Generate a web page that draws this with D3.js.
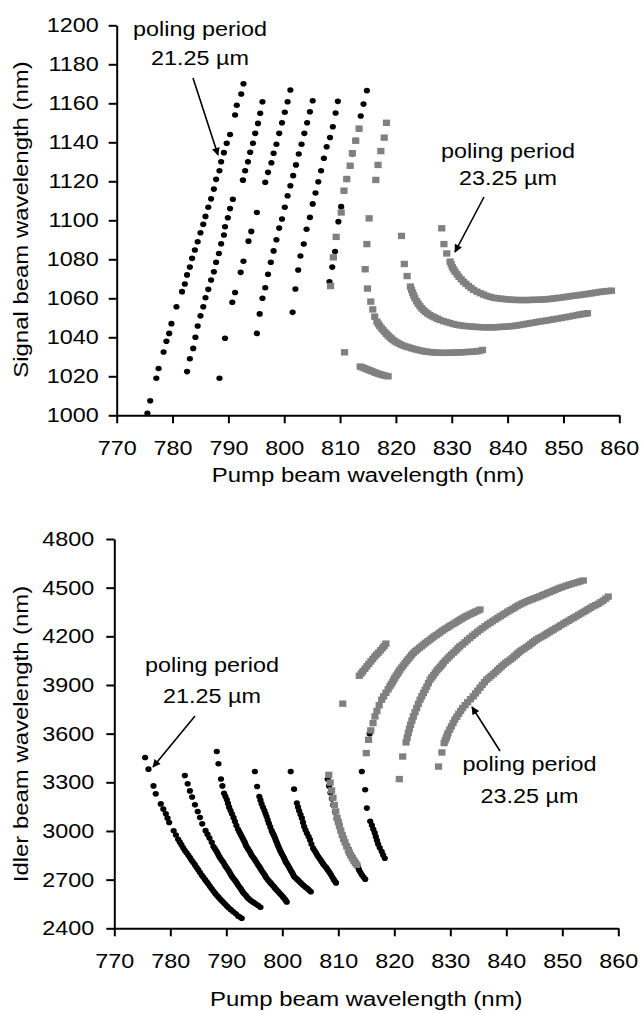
<!DOCTYPE html>
<html>
<head>
<meta charset="utf-8">
<script src="https://cdnjs.cloudflare.com/ajax/libs/d3/7.8.5/d3.min.js"></script>
<style>
  body { margin: 0; background: #fff; }
  svg text { font-family: Arial, "Liberation Sans", sans-serif; fill: #000; }
</style>
</head>
<body>
<div class="chart"></div>
<script>
// Pump vs signal / idler wavelength, two poling periods

// ticks
const pumpTicks = [770, 780, 790, 800, 810, 820, 830, 840, 850, 860]
const signalTicks = [1000, 1020, 1040, 1060, 1080, 1100, 1120, 1140, 1160, 1180, 1200]
const idlerTicks = [2400, 2700, 3000, 3300, 3600, 3900, 4200, 4500, 4800]

// --- top panel: signal wavelength, [pump, signal] ---
// poling period 21.25 um (black dots)
const signalA1 = [[775.5,1001],[776.0,1007.5],[777.1,1019],[777.5,1024],[778.4,1032.5],[778.9,1038],[779.4,1042],[779.8,1047],[780.7,1055.7],[781.7,1063.4],[782.2,1067.3],[782.6,1072],[783.1,1076],[783.5,1080.5],[784.0,1084.8],[784.5,1089],[785.0,1093.6],[785.5,1098],[785.9,1102],[786.4,1106.7],[786.9,1111],[787.4,1116],[787.8,1121],[788.4,1125.4],[788.7,1130],[789.2,1134.7],[789.7,1139.5],[790.3,1144],[791.2,1154],[791.5,1159],[792.3,1164.8],[792.7,1170]]
const signalA2 = [[782.6,1022.4],[783.1,1029],[783.7,1034.3],[784.1,1040],[784.5,1045.8],[785.0,1051],[785.5,1055.7],[785.9,1060.3],[786.4,1064.6],[786.9,1069.4],[787.4,1073.6],[787.8,1078.5],[788.3,1083],[788.7,1088],[789.2,1092.5],[789.4,1096.7],[789.9,1101.3],[790.3,1106],[790.8,1110.8],[792.6,1120.6],[793.0,1125.4],[793.5,1130],[793.9,1134.9],[794.4,1139.5],[794.8,1144.6],[795.3,1149.7],[795.7,1154.9],[796.1,1160.8]]
const signalA3 = [[788.4,1019],[789.4,1039.5],[790.7,1058],[791.2,1063],[792.2,1073.3],[792.7,1079],[793.6,1089.3],[794.1,1094.3],[795.1,1104],[796.6,1119.5],[797.1,1124.6],[797.7,1129.5],[798.1,1134.4],[798.6,1139],[799.1,1144.6],[799.6,1150],[800.1,1155.4],[800.6,1160.8],[801.1,1166.8]]
const signalA4 = [[795.1,1042],[795.6,1052],[796.1,1060],[796.6,1065.4],[797.1,1072.3],[797.6,1078.5],[798.1,1084.3],[798.6,1090],[799.1,1096],[799.6,1100.7],[800.1,1106.7],[800.6,1112.6],[801.1,1117.7],[801.6,1122.9],[802.1,1128.4],[802.6,1134],[803.1,1139],[803.6,1144.6],[804.1,1150],[804.6,1155.7],[805.1,1161.3]]
const signalA5 = [[801.5,1052.8],[802.0,1064.8],[802.5,1074.5],[802.9,1081.7],[803.5,1087.8],[804.0,1095.4],[804.6,1101.5],[805.1,1108.4],[805.6,1114],[806.1,1119.8],[806.6,1125.4],[807.1,1131.8],[807.6,1137.7],[808.2,1142.5],[808.7,1148],[809.2,1155],[809.6,1161]]
const signalA6 = [[808.1,1068.5],[808.6,1076],[809.1,1084],[809.7,1099.3],[810.2,1107],[810.7,1115],[811.2,1121],[811.8,1128],[812.2,1134],[812.8,1141],[813.4,1147],[813.7,1153.5],[814.2,1159.6],[814.8,1166.5]]
// poling period 23.25 um (grey squares)
const signalB1 = [[808.3,1066.3],[808.8,1081],[809.3,1091.5],[810.2,1104],[810.7,1115.2],[811.2,1121.2],[811.8,1128],[812.2,1134.4],[812.8,1140.8],[813.4,1147],[810.8,1032.3],[813.6,1025],[813.95,1024.6],[814.3,1024.2],[814.65,1023.8],[815.0,1023.4],[815.35,1023.0],[815.7,1022.6],[816.05,1022.2],[816.4,1021.8],[816.75,1021.4],[817.1,1021.1],[817.45,1020.8],[817.8,1020.5],[818.2,1020.2],[818.6,1020]]
const signalB2 = [[815.2,1101],[814.8,1087.8],[814.5,1074.9],[814.9,1065],[815.5,1058.3],[815.85,1054.3],[816.2,1050.6],[816.6,1048],[816.85,1046.9],[817.1,1045.8],[817.4,1044.7],[817.7,1043.7],[818.0,1042.7],[818.3,1041.8],[818.6,1040.9],[818.9,1040.1],[819.2,1039.3],[819.5,1038.6],[819.85,1037.9],[820.2,1037.3],[820.6,1036.7],[821.0,1036.1],[821.45,1035.6],[821.9,1035.2],[822.35,1034.8],[822.8,1034.4],[823.25,1034.0],[823.7,1033.7],[824.15,1033.4],[824.6,1033.1],[825.05,1032.8],[825.5,1032.6],[826.0,1032.45],[826.5,1032.3],[827.0,1032.2],[827.5,1032.1],[828.05,1032.05],[828.6,1032],[829.15,1032.05],[829.7,1032.1],[830.25,1032.15],[830.8,1032.2],[831.3,1032.25],[831.8,1032.3],[832.35,1032.4],[832.9,1032.5],[833.4,1032.55],[833.9,1032.6],[834.45,1032.8],[835.0,1033],[835.5,1033.5],[816.4,1120.7],[816.8,1128.4],[817.3,1135.5],[817.9,1142.4],[818.3,1150]]
const signalB3 = [[821.0,1092],[821.5,1077.6],[822.0,1071.4],[822.6,1066],[822.8,1064.3],[823.0,1062.8],[823.2,1061.4],[823.4,1060],[823.7,1058.5],[824.0,1057.2],[824.3,1056],[824.6,1054.9],[824.95,1053.9],[825.3,1053],[825.7,1052.2],[826.1,1051.4],[826.55,1050.7],[827.0,1050.1],[827.45,1049.5],[827.9,1048.9],[828.5,1048.3],[829.1,1047.8],[829.7,1047.3],[830.3,1046.8],[830.9,1046.4],[831.5,1046.1],[832.1,1045.9],[832.7,1045.7],[833.3,1045.55],[833.9,1045.4],[834.5,1045.3],[835.1,1045.2],[835.7,1045.15],[836.3,1045.1],[836.85,1045.1],[837.4,1045.1],[838.0,1045.2],[838.6,1045.3],[839.2,1045.4],[839.8,1045.5],[840.4,1045.65],[841.0,1045.8],[841.6,1046.05],[842.2,1046.3],[842.8,1046.6],[843.4,1046.9],[844.0,1047.2],[844.6,1047.5],[845.2,1047.8],[845.8,1048.1],[846.4,1048.35],[847.0,1048.6],[847.6,1048.9],[848.2,1049.2],[848.9,1049.55],[849.6,1049.9],[850.3,1050.25],[851.0,1050.6],[851.7,1051.0],[852.4,1051.4],[852.9,1051.65],[853.4,1051.9],[853.85,1052.1],[854.3,1052.3]]
const signalB4 = [[828.2,1095.9],[828.6,1087.8],[829.1,1083],[829.7,1078.8],[829.9,1077.4],[830.1,1076],[830.35,1074.8],[830.6,1073.6],[830.95,1072.3],[831.3,1071],[831.7,1069.7],[832.1,1068.5],[832.55,1067.4],[833.0,1066.3],[833.45,1065.3],[833.9,1064.3],[834.5,1063.4],[835.1,1062.6],[835.7,1061.9],[836.3,1061.2],[836.9,1060.7],[837.5,1060.3],[838.1,1060.0],[838.7,1059.8],[839.25,1059.65],[839.8,1059.5],[840.4,1059.35],[841.0,1059.2],[841.6,1059.15],[842.2,1059.1],[842.8,1059.1],[843.4,1059.1],[844.0,1059.15],[844.6,1059.2],[845.2,1059.25],[845.8,1059.3],[846.4,1059.4],[847.0,1059.5],[847.6,1059.7],[848.2,1059.9],[848.8,1060.1],[849.4,1060.3],[850.0,1060.55],[850.6,1060.8],[851.2,1061.05],[851.8,1061.3],[852.4,1061.5],[853.0,1061.7],[853.6,1061.95],[854.2,1062.2],[854.75,1062.45],[855.3,1062.7],[855.85,1062.95],[856.4,1063.2],[856.95,1063.4],[857.5,1063.6],[858.05,1063.75],[858.6,1063.9]]

// --- bottom panel: idler wavelength, [pump, idler] ---
const idlerA1 = [[775.5,3453],[776.1,3381],[777.0,3278],[777.4,3229],[778.3,3167],[778.75,3135],[779.2,3106],[779.5,3079],[779.8,3052],[780.6,3001],[781.0,2975],[781.4,2949],[781.7,2931],[782.0,2914],[782.3,2897],[782.6,2880],[782.9,2866],[783.2,2852],[783.5,2836],[783.8,2820],[784.1,2805],[784.4,2791],[784.7,2775],[785.0,2760],[785.3,2744],[785.6,2729],[785.9,2714],[786.2,2700],[786.5,2686],[786.8,2673],[787.1,2658],[787.4,2644],[787.7,2630],[788.0,2616],[788.3,2604],[788.6,2592],[788.9,2581],[789.2,2570],[789.5,2559],[789.8,2548],[790.1,2537],[790.4,2527],[790.8,2515],[791.25,2502],[791.7,2489],[792.1,2476],[792.4,2470],[792.75,2462]]
const idlerA2 = [[782.6,3342],[783.1,3291],[783.5,3247],[783.9,3209],[784.4,3161],[784.9,3120],[785.3,3083],[785.7,3044],[786.3,3002],[786.65,2979],[787.0,2956],[787.4,2930],[787.7,2904],[787.95,2891],[788.2,2878],[788.4,2865],[788.6,2852],[788.8,2840],[789.0,2828],[789.25,2816],[789.5,2805],[789.7,2792],[789.9,2780],[790.15,2768],[790.4,2756],[790.6,2744],[790.8,2732],[791.0,2720],[791.25,2709],[791.5,2698],[791.7,2688],[791.9,2677],[792.1,2667],[792.35,2655],[792.6,2643],[792.8,2631],[793.0,2620],[793.25,2611],[793.5,2602],[793.7,2593],[793.9,2585],[794.2,2576],[794.5,2568],[794.8,2561],[795.1,2554],[795.4,2547],[795.7,2541],[796.1,2530]]
const idlerA3 = [[788.3,3490],[788.6,3414],[789.05,3320],[789.3,3278],[789.6,3233],[789.85,3212],[790.1,3192],[790.3,3170],[790.5,3147],[790.75,3126],[791.0,3106],[791.3,3082],[791.55,3058],[791.8,3034],[792.1,3011],[792.3,2997],[792.5,2983],[792.7,2970],[792.9,2956],[793.1,2943],[793.3,2930],[793.45,2917],[793.6,2904],[793.85,2891],[794.1,2878],[794.3,2865],[794.5,2852],[794.75,2840],[795.0,2828],[795.2,2816],[795.4,2805],[795.65,2792],[795.9,2780],[796.1,2768],[796.3,2756],[796.55,2744],[796.8,2732],[797.0,2720],[797.2,2709],[797.45,2698],[797.7,2688],[797.9,2680],[798.1,2672],[798.35,2662],[798.6,2652],[798.8,2644],[799.0,2636],[799.25,2627],[799.5,2618],[799.7,2610],[799.9,2602],[800.15,2592],[800.4,2582],[800.6,2572],[800.8,2562]]
const idlerA4 = [[795.1,3367],[795.5,3274],[795.9,3212],[796.1,3190],[796.3,3167],[796.55,3146],[796.8,3126],[797.0,3108],[797.2,3089],[797.4,3068],[797.6,3048],[797.85,3025],[798.1,3002],[798.25,2991],[798.4,2980],[798.55,2968],[798.7,2956],[798.85,2943],[799.0,2930],[799.15,2917],[799.3,2904],[799.45,2892],[799.6,2880],[799.75,2870],[799.9,2859],[800.1,2847],[800.3,2835],[800.45,2823],[800.6,2811],[800.8,2800],[801.0,2788],[801.2,2776],[801.4,2764],[801.6,2752],[801.8,2741],[801.95,2730],[802.1,2719],[802.35,2711],[802.6,2703],[802.8,2697],[803.0,2690],[803.3,2680],[803.6,2670],[803.85,2662],[804.1,2655],[804.35,2648],[804.6,2642],[804.85,2633],[805.1,2625]]
const idlerA5 = [[801.5,3367],[802.1,3258],[802.6,3172],[802.8,3148],[803.0,3124],[803.25,3101],[803.5,3079],[803.7,3053],[803.9,3027],[804.15,3006],[804.4,2986],[804.7,2965],[804.95,2945],[805.2,2920],[805.5,2894],[805.75,2880],[806.0,2865],[806.2,2853],[806.4,2842],[806.65,2830],[806.9,2818],[807.1,2807],[807.3,2797],[807.55,2786],[807.8,2776],[808.0,2766],[808.2,2756],[808.45,2743],[808.7,2730],[808.95,2715],[809.2,2700],[809.4,2690],[809.6,2680]]
const idlerA6 = [[808.1,3320],[808.35,3278],[808.6,3235],[808.85,3198],[809.1,3160],[809.4,3118],[809.7,3075],[809.95,3052],[810.2,3030],[810.45,3005],[810.7,2980],[810.95,2958],[811.2,2935],[811.5,2912],[811.8,2890],[812.0,2875],[812.2,2860],[812.5,2843],[812.8,2826],[813.1,2808],[813.4,2790],[813.55,2775],[813.7,2760],[813.95,2745],[814.2,2730],[814.5,2716],[814.8,2703]]
const idlerA7 = [[814.2,3367],[814.8,3254],[815.1,3141],[815.7,3060],[816.0,3035],[816.25,3011],[816.5,2988],[816.7,2965],[816.9,2942],[817.1,2920],[817.4,2896],[817.75,2873],[818.0,2852],[818.3,2832],[815.6,3600]]
const idlerB1 = [[808.3,3346],[808.55,3298],[808.8,3250],[809.05,3205],[809.3,3160],[809.55,3120],[809.8,3080],[810.0,3055],[810.2,3030],[810.45,3002],[810.7,2975],[810.95,2952],[811.2,2930],[811.5,2905],[811.8,2880],[812.0,2865],[812.2,2850],[812.5,2832],[812.8,2815],[813.05,2803],[813.3,2791],[810.8,3785],[813.75,3957],[814.1,3971],[814.4,3985],[814.75,4000],[815.1,4015],[815.45,4030],[815.8,4045],[816.15,4060],[816.5,4075],[816.85,4088],[817.2,4100],[817.55,4114],[817.9,4128],[818.2,4141],[818.5,4155]]
const idlerB2 = [[815.0,3480],[815.4,3562],[815.8,3620],[816.2,3665],[816.55,3706],[816.9,3740],[817.3,3775],[817.75,3809],[818.1,3830],[818.5,3852],[818.9,3873],[819.2,3891],[819.45,3905],[819.7,3918],[819.9,3932],[820.1,3945],[820.35,3958],[820.6,3970],[820.8,3982],[821.0,3994],[821.3,4007],[821.6,4020],[821.9,4034],[822.2,4047],[822.5,4060],[822.8,4072],[823.1,4085],[823.4,4097],[823.75,4108],[824.1,4118],[824.5,4129],[824.9,4140],[825.25,4150],[825.6,4160],[826.0,4170],[826.4,4180],[826.75,4190],[827.1,4199],[827.5,4208],[827.9,4217],[828.25,4226],[828.6,4235],[829.0,4244],[829.4,4252],[829.75,4260],[830.1,4268],[830.5,4276],[830.9,4284],[831.25,4292],[831.6,4299],[831.95,4307],[832.3,4314],[832.65,4321],[833.0,4327],[833.4,4334],[833.8,4340],[834.15,4346],[834.5,4352],[834.9,4358],[835.3,4365]]
const idlerB3 = [[820.9,3320],[821.5,3459],[822.1,3546],[822.3,3575],[822.5,3604],[822.7,3630],[822.9,3655],[823.15,3680],[823.4,3706],[823.7,3732],[824.0,3758],[824.3,3784],[824.6,3809],[824.9,3830],[825.2,3850],[825.5,3870],[825.8,3890],[826.1,3912],[826.4,3933],[826.7,3947],[827.0,3960],[827.3,3975],[827.6,3990],[827.9,4001],[828.2,4012],[828.5,4024],[828.75,4036],[829.1,4050],[829.5,4063],[829.85,4076],[830.2,4088],[830.6,4100],[831.0,4113],[831.35,4126],[831.7,4138],[832.15,4150],[832.6,4163],[833.05,4177],[833.5,4190],[833.95,4203],[834.4,4215],[834.85,4228],[835.3,4240],[835.75,4251],[836.2,4262],[836.65,4273],[837.1,4283],[837.55,4293],[838.0,4303],[838.45,4313],[838.9,4323],[839.35,4333],[839.8,4342],[840.25,4352],[840.7,4361],[841.15,4370],[841.6,4379],[842.0,4388],[842.45,4396],[842.9,4403],[843.3,4410],[843.75,4417],[844.2,4423],[844.65,4429],[845.1,4435],[845.55,4441],[846.0,4447],[846.45,4454],[846.9,4460],[847.35,4467],[847.8,4473],[848.25,4480],[848.7,4486],[849.15,4493],[849.6,4499],[850.1,4505],[850.6,4511],[851.1,4517],[851.6,4522],[852.15,4528],[852.7,4533],[853.2,4539],[853.75,4544]]
const idlerB4 = [[827.9,3397],[828.5,3484],[828.9,3542],[829.1,3560],[829.3,3575],[829.45,3590],[829.6,3604],[829.9,3625],[830.2,3645],[830.5,3666],[830.8,3686],[831.15,3704],[831.5,3722],[831.85,3740],[832.2,3758],[832.65,3776],[833.1,3794],[833.6,3812],[834.1,3830],[834.5,3848],[834.9,3865],[835.3,3883],[835.7,3900],[836.1,3917],[836.5,3933],[836.9,3945],[837.3,3956],[837.7,3968],[838.1,3980],[838.45,3992],[838.8,4003],[839.15,4014],[839.5,4025],[839.9,4036],[840.3,4046],[840.7,4056],[841.1,4066],[841.45,4077],[841.8,4087],[842.1,4097],[842.45,4107],[842.8,4116],[843.2,4125],[843.6,4134],[844.0,4143],[844.35,4153],[844.7,4162],[845.05,4171],[845.4,4180],[845.8,4188],[846.2,4195],[846.6,4203],[847.0,4211],[847.35,4219],[847.7,4226],[848.05,4234],[848.4,4241],[848.85,4250],[849.3,4259],[849.75,4269],[850.2,4278],[850.65,4287],[851.1,4296],[851.55,4305],[852.0,4314],[852.45,4323],[852.9,4332],[853.35,4341],[853.8,4350],[854.2,4358],[854.6,4367],[855.05,4376],[855.5,4385],[855.95,4392],[856.4,4400],[856.85,4410],[857.3,4420],[857.75,4432],[858.2,4445]]

const W = 642, H = 1013
const sx = 1.14   // the source text is drawn a bit wide
const fs = 20.5

const svg = d3.select('.chart').append('svg')
  .attr('width', W).attr('height', H)

const defs = svg.append('defs')
defs.append('marker')
  .attr('id', 'head')
  .attr('viewBox', '0 0 10 10')
  .attr('refX', 9).attr('refY', 5)
  .attr('markerWidth', 10).attr('markerHeight', 8)
  .attr('markerUnits', 'userSpaceOnUse')
  .attr('orient', 'auto')
  .append('path').attr('d', 'M0,0 L10,5 L0,10 Z').attr('fill', '#000')

const panels = [
  {
    xRange: [116.7, 619.3], yRange: [415.3, 25.3], yDomain: [1000, 1200], yTicks: signalTicks, yPad: 10,
    black: [signalA1, signalA2, signalA3, signalA4, signalA5, signalA6],
    grey: [signalB1, signalB2, signalB3, signalB4],
    yTitle: 'Signal beam wavelength (nm)', yTitleX: 28, yTitleY: 219.5, xTitleY: 482,
    notes: [
      {x: 200, y: [35.7, 64.5], lines: ['poling period', '21.25 µm'], from: [193, 78], to: [218, 155]},
      {x: 508, y: [157.5, 184.5], lines: ['poling period', '23.25 µm'], from: [484, 197], to: [455, 252]}
    ]
  },
  {
    xRange: [114.3, 618.3], yRange: [928.3, 539], yDomain: [2400, 4800], yTicks: idlerTicks, yPad: 12,
    black: [idlerA1, idlerA2, idlerA3, idlerA4, idlerA5, idlerA6, idlerA7],
    grey: [idlerB1, idlerB2, idlerB3, idlerB4],
    yTitle: 'Idler beam wavelength (nm)', yTitleX: 27.5, yTitleY: 734, xTitleY: 1006,
    notes: [
      {x: 212, y: [672.3, 703], lines: ['poling period', '21.25 µm'], from: [195, 716], to: [153, 767]},
      {x: 529.5, y: [770.7, 803], lines: ['poling period', '23.25 µm'], from: [500, 751], to: [472, 707]}
    ]
  }
]

panels.forEach(p => {
  const x = d3.scaleLinear().domain([770, 860]).range(p.xRange)
  const y = d3.scaleLinear().domain(p.yDomain).range(p.yRange)
  const g = svg.append('g')

  // 21.25 um: black dots
  p.black.forEach(s => {
    g.append('g').selectAll('ellipse')
      .data(s)
      .enter()
      .append('ellipse')
      .attr('cx', d => x(d[0]))
      .attr('cy', d => y(d[1]))
      .attr('rx', 3.1)
      .attr('ry', 2.8)
      .attr('fill', '#000')
  })

  // 23.25 um: grey squares
  p.grey.forEach(s => {
    g.append('g').selectAll('rect')
      .data(s)
      .enter()
      .append('rect')
      .attr('x', d => x(d[0]) - 3.6)
      .attr('y', d => y(d[1]) - 3.2)
      .attr('width', 7.2)
      .attr('height', 6.4)
      .attr('fill', '#808080')
  })

  // X-axis
  const xAxis = d3.axisBottom(x).tickValues(pumpTicks).tickSize(8).tickSizeOuter(0).tickPadding(17)
  const gx = g.append('g')
    .attr('transform', 'translate(0,' + p.yRange[0] + ')')
    .call(xAxis)
  // Y-axis
  const yAxis = d3.axisLeft(y).tickValues(p.yTicks).tickFormat(d3.format('d')).tickSize(8).tickSizeOuter(0)
  const gy = g.append('g')
    .attr('transform', 'translate(' + p.xRange[0] + ',0)')
    .call(yAxis)

  ;[gx, gy].forEach(a => {
    a.attr('font-family', null).attr('font-size', null)
    a.select('.domain').attr('stroke', '#000').attr('stroke-width', 2)
    a.selectAll('.tick line').attr('stroke', '#000').attr('stroke-width', 2)
    a.selectAll('text')
      .attr('fill', '#111')
      .style('font-size', fs + 'px')
      .attr('transform', 'scale(' + sx + ',1)')
  })
  gy.selectAll('text').attr('x', -(8 + p.yPad) / sx)

  // axis titles
  g.append('text')
    .attr('transform', 'translate(' + ((p.xRange[0] + p.xRange[1]) / 2) + ',' + p.xTitleY + ') scale(' + sx + ',1)')
    .attr('text-anchor', 'middle')
    .style('font-size', '21px')
    .attr('fill', '#111')
    .text('Pump beam wavelength (nm)')
  g.append('text')
    .attr('transform', 'translate(' + p.yTitleX + ',' + p.yTitleY + ') rotate(-90) scale(' + sx + ',1)')
    .attr('text-anchor', 'middle')
    .style('font-size', '21px')
    .attr('fill', '#111')
    .text(p.yTitle)

  // annotations
  p.notes.forEach(n => {
    n.lines.forEach((t, i) => {
      g.append('text')
        .attr('transform', 'translate(' + n.x + ',' + n.y[i] + ') scale(' + sx + ',1)')
        .attr('text-anchor', 'middle')
        .style('font-size', fs + 'px')
        .attr('fill', '#111')
        .text(t)
    })
    g.append('line')
      .attr('x1', n.from[0]).attr('y1', n.from[1])
      .attr('x2', n.to[0]).attr('y2', n.to[1])
      .attr('stroke', '#000')
      .attr('stroke-width', 1.6)
      .attr('marker-end', 'url(#head)')
  })
})
</script>
</body>
</html>
